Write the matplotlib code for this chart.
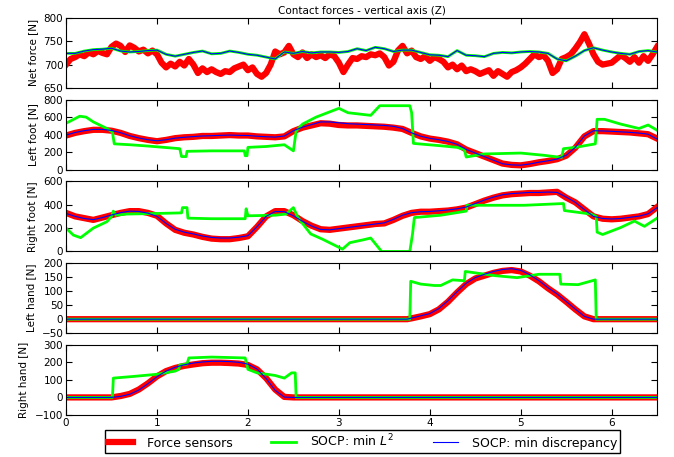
import matplotlib
matplotlib.use('Agg')

import matplotlib.pyplot as plt
import numpy as np

# ---------------- data ----------------
# net force: sensors on a 0.05 s grid, SOCP on a 0.1 s grid (both SOCP overlap)
net_sensors = [
    700, 712, 716, 722, 718, 726, 722, 729, 725, 722,
    738, 745, 740, 727, 741, 736, 728, 732, 724, 730,
    722, 704, 694, 702, 696, 706, 698, 712, 700, 682,
    692, 684, 690, 684, 680, 686, 684, 692, 696, 700,
    688, 694, 680, 674, 682, 700, 728, 722, 726, 740,
    722, 716, 726, 714, 722, 716, 720, 714, 722, 718,
    704, 684, 700, 714, 712, 718, 716, 722, 720, 724,
    716, 698, 706, 730, 740, 724, 730, 716, 712, 718,
    708, 716, 712, 706, 694, 700, 690, 698, 686, 690,
    686, 680, 684, 688, 676, 686, 680, 674, 684, 688,
    694, 702, 712, 722, 716, 720, 708, 682, 690, 712,
    716, 722, 734, 748, 765, 745, 722, 706, 700, 702,
    704, 712, 720, 714, 706, 716, 704, 718, 708, 722,
    738,
]
net_socp = [
    724, 724, 729, 732, 733, 735, 729, 727, 728, 730,
    731, 722, 718, 722, 726, 729, 723, 724, 729, 726,
    722, 720, 716, 712, 727, 724, 728, 725, 727, 727,
    726, 728, 734, 730, 737, 734, 728, 731, 731, 726,
    721, 720, 717, 730, 720, 719, 717, 724, 726, 725,
    727, 728, 727, 724, 712, 708, 718, 730, 736, 731,
    727, 724, 722, 728, 730, 727,
]

# left foot, 0.1 s grid
lfoot_sensors = [
    390, 420, 440, 455, 455, 445, 420, 385, 360, 340,
    325, 340, 360, 370, 375, 385, 385, 390, 395, 390,
    390, 380, 375, 370, 380, 440, 480, 505, 530, 525,
    510, 505, 505, 500, 495, 490, 480, 465, 420, 380,
    355, 340, 320, 290, 230, 190, 150, 110, 70, 55,
    50, 65, 85, 100, 120, 160, 250, 380, 440, 440,
    435, 430, 425, 415, 405, 355,
]
lfoot_disc = [
    395, 425, 445, 460, 460, 448, 422, 388, 362, 342,
    330, 342, 360, 370, 378, 385, 388, 392, 395, 392,
    390, 382, 376, 372, 385, 445, 485, 515, 545, 545,
    535, 525, 520, 515, 510, 505, 495, 470, 420, 382,
    358, 342, 322, 290, 232, 190, 150, 108, 68, 55,
    52, 66, 86, 102, 122, 165, 255, 385, 445, 442,
    438, 432, 426, 418, 405, 350,
]
lfoot_l2_t = [0, 0.15, 0.22, 0.3, 0.45, 0.51, 0.53, 0.7, 0.9, 1.25, 1.27,
              1.32, 1.33, 1.6, 1.96, 1.97, 1.99, 2.0, 2.2, 2.4, 2.5, 2.53,
              2.6, 2.75, 2.85, 3.0, 3.1, 3.35, 3.45, 3.78, 3.8, 3.82, 4.1,
              4.3, 4.38, 4.4, 4.6, 5.0, 5.25, 5.45, 5.47, 5.6, 5.82, 5.84,
              5.92, 6.1, 6.3, 6.4, 6.5]
lfoot_l2 = [530, 610, 600, 545, 470, 430, 295, 285, 270, 240, 150,
            150, 210, 215, 215, 160, 160, 255, 265, 285, 215, 440,
            520, 600, 640, 700, 650, 620, 730, 730, 650, 300, 275,
            255, 230, 145, 180, 190, 165, 140, 240, 255, 295, 575,
            575, 520, 470, 510, 450]

# right foot, 0.1 s grid
rfoot_sensors = [
    330, 300, 285, 270, 290, 310, 330, 345, 345, 330,
    305, 240, 185, 160, 145, 125, 110, 105, 105, 115,
    130, 210, 300, 345, 345, 310, 260, 220, 190, 185,
    195, 205, 215, 225, 235, 240, 270, 305, 330, 340,
    340, 345, 350, 360, 375, 405, 435, 460, 480, 490,
    495, 500, 500, 505, 510, 460, 420, 360, 300, 280,
    275, 280, 290, 300, 320, 380,
]
rfoot_disc = [
    325, 300, 282, 272, 290, 312, 332, 345, 342, 328,
    300, 240, 190, 165, 150, 132, 120, 115, 115, 122,
    135, 212, 300, 342, 340, 305, 258, 218, 188, 185,
    195, 205, 215, 225, 235, 245, 275, 310, 332, 340,
    342, 348, 355, 365, 380, 410, 440, 465, 485, 495,
    500, 505, 505, 508, 505, 465, 420, 358, 300, 282,
    278, 282, 292, 302, 322, 375,
]
rfoot_l2_t = [0, 0.08, 0.16, 0.3, 0.45, 0.5, 0.52, 0.55, 0.67, 1.0, 1.27,
              1.28, 1.33, 1.34, 1.6, 1.97, 1.98, 2.0, 2.3, 2.42, 2.5, 2.55,
              2.69, 2.82, 3.04, 3.12, 3.27, 3.35, 3.47, 3.78, 3.81, 3.83,
              4.12, 4.4, 4.41, 5.04, 5.47, 5.48, 5.77, 5.83, 5.84, 5.9,
              6.1, 6.25, 6.36, 6.5]
rfoot_l2 = [200, 140, 118, 200, 255, 300, 345, 310, 320, 325, 330,
            375, 375, 285, 280, 280, 365, 305, 310, 320, 375, 290,
            150, 105, 20, 75, 100, 115, 0, 0, 150, 290,
            310, 345, 395, 395, 410, 350, 320, 300, 165, 145,
            205, 260, 215, 285]

# left hand
lhand_t = [0, 3.75, 3.8, 3.9, 4.0, 4.1, 4.2, 4.3, 4.4, 4.5, 4.6, 4.7,
           4.8, 4.9, 5.0, 5.1, 5.2, 5.3, 5.4, 5.5, 5.6, 5.7, 5.8, 6.5]
lhand_sensors = [0, 0, 3, 10, 18, 35, 62, 95, 125, 145, 155, 165,
                 172, 175, 170, 155, 135, 110, 88, 62, 35, 10, 0, 0]
lhand_disc = [0, 0, 4, 12, 20, 38, 66, 98, 128, 148, 160, 170,
              177, 180, 174, 158, 137, 112, 90, 63, 36, 10, 0, 0]
lhand_l2_t = [0, 3.78, 3.79, 3.9, 4.05, 4.12, 4.25, 4.38, 4.39, 4.5,
              4.72, 4.96, 5.2, 5.43, 5.44, 5.63, 5.82, 5.83, 6.5]
lhand_l2 = [0, 0, 135, 125, 120, 120, 140, 137, 170, 165,
            155, 148, 160, 160, 125, 123, 140, 0, 0]

# right hand
rhand_t = [0, 0.5, 0.6, 0.7, 0.8, 0.9, 1.0, 1.1, 1.2, 1.3, 1.4, 1.5,
           1.6, 1.7, 1.8, 1.9, 2.0, 2.1, 2.2, 2.3, 2.4, 2.5, 6.5]
rhand_sensors = [0, 0, 8, 20, 45, 80, 120, 150, 168, 180, 188, 195,
                 198, 198, 196, 193, 185, 160, 110, 45, 3, 0, 0]
rhand_disc = [0, 0, 6, 18, 42, 78, 118, 150, 172, 186, 196, 202,
              206, 206, 204, 200, 190, 162, 108, 40, 2, 0, 0]
rhand_l2_t = [0, 0.51, 0.52, 0.75, 1.0, 1.2, 1.24, 1.25, 1.33, 1.35,
              1.6, 1.97, 2.0, 2.1, 2.3, 2.4, 2.48, 2.52, 2.53, 6.5]
rhand_l2 = [0, 0, 110, 120, 132, 150, 160, 185, 190, 225,
            230, 225, 160, 140, 125, 110, 140, 140, 0, 0]

ylabels = ['Net force [N]', 'Left foot [N]', 'Right foot [N]',
           'Left hand [N]', 'Right hand [N]']
ylims = [(650, 800), (0, 800), (0, 600), (-50, 200), (-100, 300)]
yticks = [[650, 700, 750, 800], [0, 200, 400, 600, 800],
          [0, 200, 400, 600], [-50, 0, 50, 100, 150, 200],
          [-100, 0, 100, 200, 300]]

# ---------------- plot ----------------
plt.rcParams['xtick.direction'] = 'in'
plt.rcParams['ytick.direction'] = 'in'
plt.rcParams['xtick.top'] = True
plt.rcParams['ytick.right'] = True
plt.rcParams['xtick.major.size'] = 4
plt.rcParams['ytick.major.size'] = 4

fig, axes = plt.subplots(5, 1, figsize=(6.74, 4.57), dpi=100, sharex=True)
fig.subplots_adjust(left=0.098, right=0.975, top=0.961, bottom=0.092,
                    hspace=0.165)

t_fine = np.linspace(0, 6.5, len(net_sensors))
t_grid = np.linspace(0, 6.5, len(net_socp))

panels = [
    (t_fine, net_sensors, t_grid, net_socp, t_grid, net_socp),
    (t_grid, lfoot_sensors, lfoot_l2_t, lfoot_l2, t_grid, lfoot_disc),
    (t_grid, rfoot_sensors, rfoot_l2_t, rfoot_l2, t_grid, rfoot_disc),
    (lhand_t, lhand_sensors, lhand_l2_t, lhand_l2, lhand_t, lhand_disc),
    (rhand_t, rhand_sensors, rhand_l2_t, rhand_l2, rhand_t, rhand_disc),
]

for i, ax in enumerate(axes):
    ts, ys, tl, yl, td, yd = panels[i]
    h1, = ax.plot(ts, ys, color='#ff0000', linewidth=4.5, label='Force sensors')
    h2, = ax.plot(tl, yl, color='#00ff00', linewidth=2, label='SOCP: min $L^2$')
    h3, = ax.plot(td, yd, color='#0000ff', linewidth=0.8,
                  label='SOCP: min discrepancy')
    ax.set_xlim(0, 6.5)
    ax.set_ylim(*ylims[i])
    ax.set_yticks(yticks[i])
    ax.set_ylabel(ylabels[i], fontsize=7.5)
    ax.tick_params(labelsize=7.5, pad=2)

axes[0].set_title('Contact forces - vertical axis (Z)', fontsize=7.5, pad=3)
axes[-1].set_xticks([0, 1, 2, 3, 4, 5, 6])

fig.legend([h1, h2, h3],
           ['Force sensors', 'SOCP: min $L^2$', 'SOCP: min discrepancy'],
           loc='upper center', bbox_to_anchor=(0.538, 0.059), ncol=3,
           fontsize=9, fancybox=False, edgecolor='black', framealpha=1,
           handlelength=2.0, columnspacing=3.1, borderpad=0.25,
           handletextpad=1.1, borderaxespad=0)

plt.savefig('out.png', dpi=100)
plt.close()
